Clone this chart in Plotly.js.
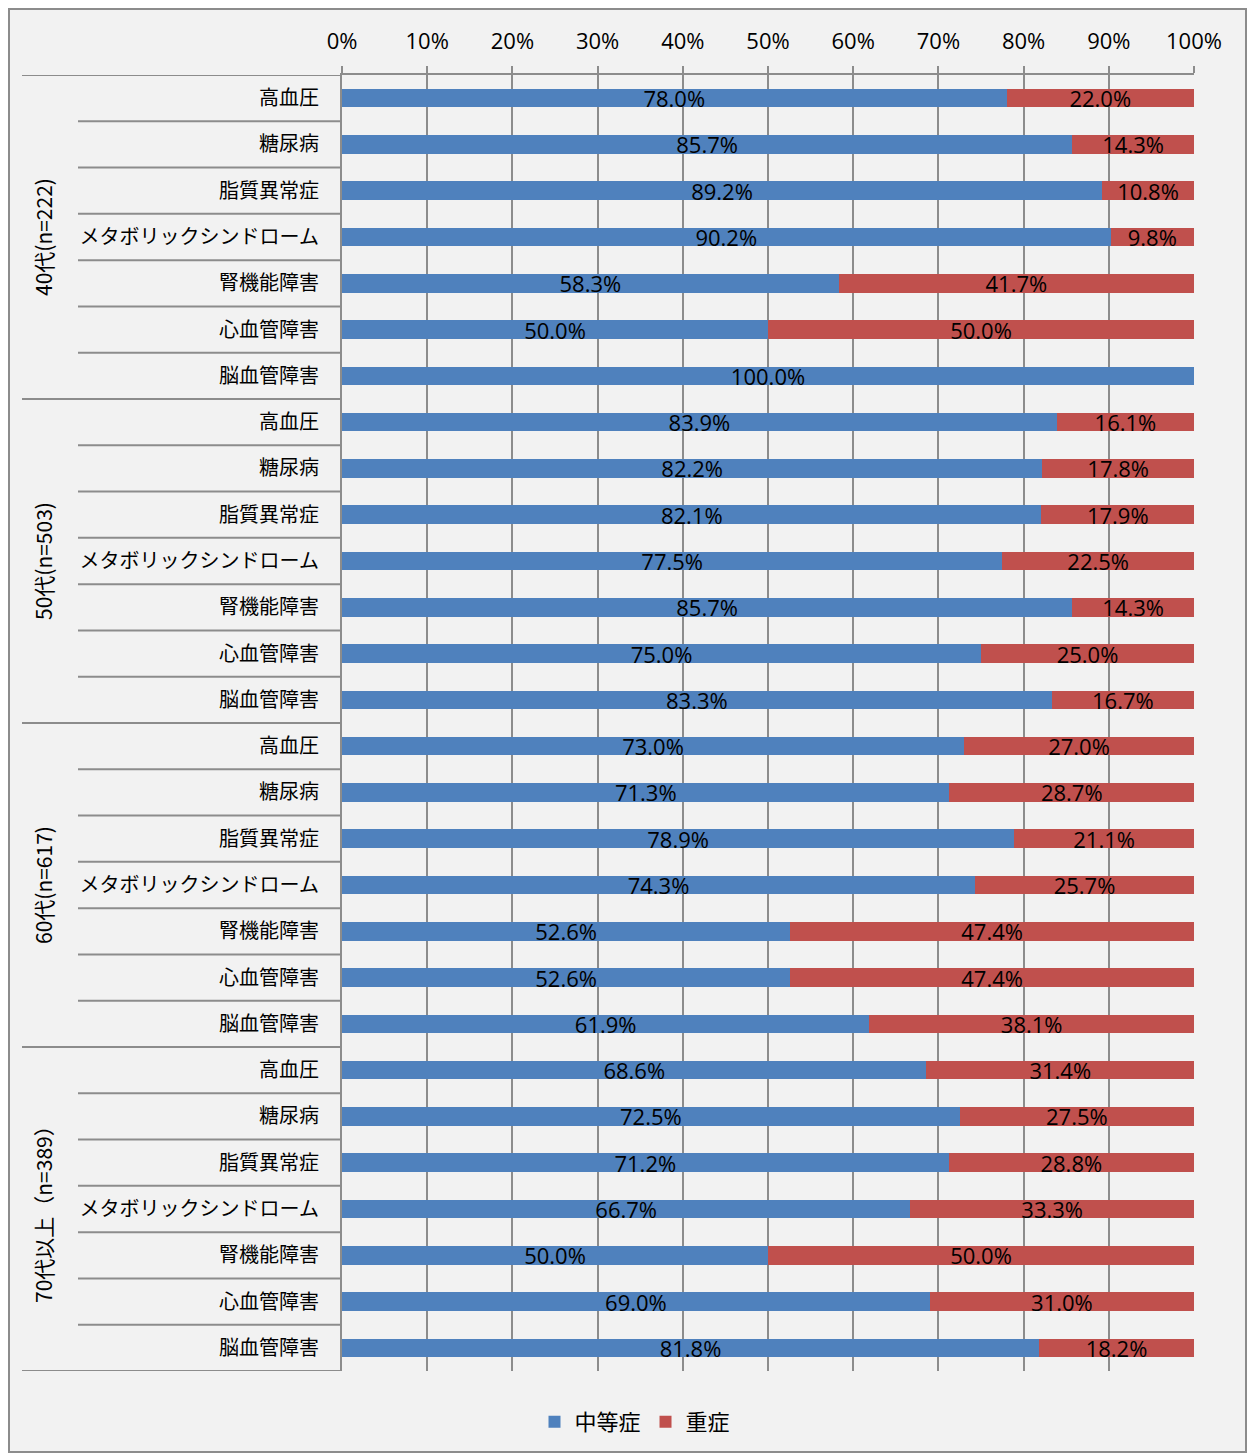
<!DOCTYPE html>
<html>
<head>
<meta charset="utf-8">
<script src="https://cdn.plot.ly/plotly-3.0.1.min.js"></script>
<style>
html,body{margin:0;padding:0;background:#ffffff;}
#chart{width:1247px;height:1454px;}
</style>
</head>
<body>
<div id="chart"></div>
<script>
// ---- data ----
const groups = ["40代(n=222)", "50代(n=503)", "60代(n=617)", "70代以上（n=389）"];
const items = ["高血圧", "糖尿病", "脂質異常症", "メタボリックシンドローム", "腎機能障害", "心血管障害", "脳血管障害"];
const moderate = [
  78.0, 85.7, 89.2, 90.2, 58.3, 50.0, 100.0,
  83.9, 82.2, 82.1, 77.5, 85.7, 75.0, 83.3,
  73.0, 71.3, 78.9, 74.3, 52.6, 52.6, 61.9,
  68.6, 72.5, 71.2, 66.7, 50.0, 69.0, 81.8
];
const severe = [
  22.0, 14.3, 10.8, 9.8, 41.7, 50.0, 0.0,
  16.1, 17.8, 17.9, 22.5, 14.3, 25.0, 16.7,
  27.0, 28.7, 21.1, 25.7, 47.4, 47.4, 38.1,
  31.4, 27.5, 28.8, 33.3, 50.0, 31.0, 18.2
];
const seriesNames = ["中等症", "重症"];
const xTicks = [0, 10, 20, 30, 40, 50, 60, 70, 80, 90, 100];

// ---- build ----
const nRows = groups.length * items.length;
const yPos = [];
const yText = [];
for (let g = 0; g < groups.length; g++) {
  for (let i = 0; i < items.length; i++) {
    yPos.push(g * items.length + i);
    yText.push(items[i]);
  }
}
const fmt = v => v > 0 ? v.toFixed(1) + "%" : "";

const CJK = '"Noto Sans CJK JP", "Noto Sans", sans-serif';
const NUM = '"Open Sans", "Noto Sans", sans-serif';

const common = {
  type: "bar", orientation: "h", y: yPos,
  textposition: "inside", insidetextanchor: "middle",
  constraintext: "none", cliponaxis: false,
  textfont: {family: NUM, size: 22, color: "#000000"},
  hoverinfo: "skip"
};
const traces = [
  Object.assign({}, common, {
    x: moderate, name: seriesNames[0], text: moderate.map(fmt),
    marker: {color: "#4f81bd"}
  }),
  Object.assign({}, common, {
    x: severe, name: seriesNames[1], text: severe.map(fmt),
    marker: {color: "#c0504d"}
  })
];

// pixel -> paper helpers (plot area 342..1194 x 75..1372)
const L = 342, R = 1194, T = 75, B = 1372;
const px = p => (p - L) / (R - L);
const py = p => (B - p) / (B - T);

const shapes = [];
// outer chart border
shapes.push({type: "rect", xref: "paper", yref: "paper", layer: "below",
  x0: px(9), x1: px(1246), y0: py(1453), y1: py(9),
  fillcolor: "#f2f2f2", line: {color: "#8c8c8c", width: 2}});
// separators
for (let k = 0; k <= nRows; k++) {
  const isGroup = (k % items.length === 0);
  shapes.push({type: "line", xref: "paper", yref: "y",
    x0: isGroup ? px(22) : px(78), x1: 0,
    y0: k - 0.5, y1: k - 0.5,
    line: {color: "#8c8c8c", width: 2}});
}

const annotations = groups.map((g, gi) => ({
  xref: "paper", yref: "y",
  x: px(43), y: gi * items.length + (items.length - 1) / 2,
  text: g, showarrow: false, textangle: -90,
  xanchor: "center", yanchor: "middle",
  font: {family: CJK, size: 21, color: "#000000"}
}));

const layout = {
  width: 1247, height: 1454,
  margin: {l: L, r: 1247 - R, t: T, b: 1454 - B, pad: 0},
  paper_bgcolor: "#ffffff",
  plot_bgcolor: "rgba(0,0,0,0)",
  barmode: "stack",
  bargap: 0.6,
  showlegend: true,
  legend: {orientation: "h", x: px(635), xanchor: "center",
    y: py(1422), yanchor: "middle",
    font: {family: CJK, size: 22, color: "#000000"},
    bgcolor: "rgba(0,0,0,0)", itemwidth: 30, traceorder: "normal"},
  xaxis: {
    side: "top", range: [0, 100], tickvals: xTicks,
    ticktext: xTicks.map(v => v + "%"),
    showgrid: true, gridcolor: "#8c8c8c", gridwidth: 2,
    showline: true, linecolor: "#8c8c8c", linewidth: 2,
    ticks: "outside", ticklen: 7, tickcolor: "#8c8c8c", tickwidth: 2,
    ticklabelstandoff: 8,
    zeroline: false, fixedrange: true,
    tickfont: {family: NUM, size: 22, color: "#000000"}
  },
  yaxis: {
    range: [nRows - 0.5, -0.5], tickvals: yPos, ticktext: yText,
    showgrid: false, zeroline: false,
    showline: true, linecolor: "#8c8c8c", linewidth: 2,
    ticks: "", ticklabelstandoff: 17, fixedrange: true,
    tickfont: {family: CJK, size: 20, color: "#000000"}
  },
  shapes: shapes,
  annotations: annotations,
  font: {family: CJK}
};

Plotly.newPlot("chart", traces, layout, {displayModeBar: false, staticPlot: true});
</script>
</body>
</html>
